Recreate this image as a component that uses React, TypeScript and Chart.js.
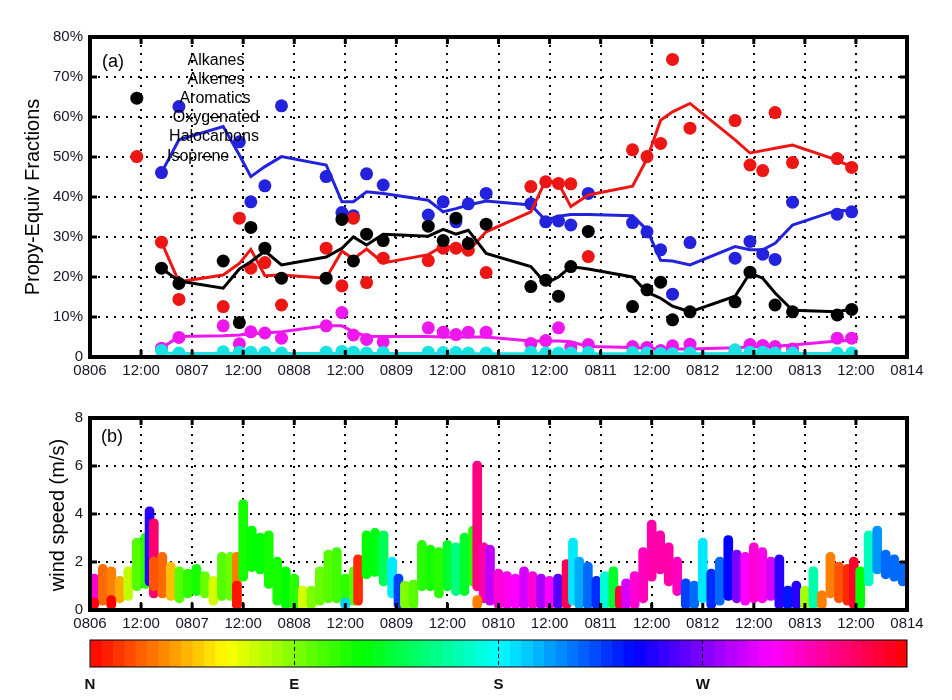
import React, { useEffect, useRef } from 'react';
import { Chart, registerables } from 'chart.js';

Chart.register(...registerables);

const FONT = '"Liberation Sans", Arial, Helvetica, sans-serif';
const TEXT = '#15152a';

// ---------- tick labels ----------
const timeTickLabels = ['0806', '12:00', '0807', '12:00', '0808', '12:00', '0809', '12:00', '0810',
  '12:00', '0811', '12:00', '0812', '12:00', '0813', '12:00', '0814'];
const fractionTickLabels = ['0', '10%', '20%', '30%', '40%', '50%', '60%', '70%', '80%'];
const speedTickLabels = ['0', '2', '4', '6', '8'];
const directionTickLabels = ['N', 'E', 'S', 'W', ''];
const legendNames = ['Alkanes', 'Alkenes', 'Aromatics', 'Oxygenated', 'Halocarbons', 'Isoprene'];

// ---------- panel (a): propylene-equivalent fractions (%), time in hours since 0806 00:00 ----------
const sampleTime = [11.0, 16.8, 20.9, 31.3, 35.1, 37.8, 41.1, 45.0, 55.5, 59.2, 61.9, 65.0, 68.9, 79.5, 83.0, 86.0, 88.9, 93.1,
  103.6, 107.1, 110.1, 113.0, 117.1, 127.5, 130.9, 134.1, 136.9, 141.0, 151.6, 155.1, 158.1, 161.0, 165.1, 175.6, 179.0];

const alkanesPts = [64.7, 22.2, 18.4, 24.0, 8.6, 32.4, 27.2, 19.7, 19.7, 34.4, 24.0, 30.7, 29.1, 32.7, 29.1, 34.7, 28.4, 33.2,
  17.6, 19.2, 15.2, 22.6, 31.4, 12.6, 16.8, 18.7, 9.3, 11.3, 13.8, 21.2, null, 13.0, 11.3, 10.5, 11.9];
const alkanesFit = [null, 22.2, 19.0, 17.2, 22.0, 23.8, 26.5, 23.0, 25.0, 27.2, 30.0, 28.0, 30.7, 30.2, 31.9, 30.7, 31.7, 25.9,
  22.6, 18.4, 20.0, 22.6, 22.0, 20.0, 16.2, 14.7, 12.7, 11.3, 15.2, 21.0, 19.7, 16.0, 11.7, 11.3, 12.0];

const oxygenatedPts = [50.1, 28.7, 14.4, 12.6, 34.7, 22.2, 23.6, 13.0, 27.2, 17.8, 34.7, 18.6, 24.7, 24.1, 27.2, 27.2, 26.7, 21.1,
  42.6, 43.8, 43.4, 43.3, 25.1, 51.8, 50.1, 53.4, 74.4, 57.2, 59.1, 48.0, 46.6, 61.1, 48.6, 49.6, 47.4];
const oxygenatedFit = [null, 28.7, 18.8, 20.5, 23.4, 26.9, 20.3, 20.5, 19.7, 26.5, 24.5, 27.0, 23.5, 25.6, 27.8, 27.2, 26.5, 31.3,
  36.3, 44.2, 43.4, 37.6, 40.5, 42.7, 49.5, 59.2, 61.3, 63.4, 54.3, 51.0, 51.6, 52.2, 53.0, 49.2, 47.5];

const alkenesPts = [null, 46.1, 62.6, null, 53.8, 38.8, 42.8, 62.8, 45.1, 36.1, 35.3, 45.8, 43.0, 35.5, 38.8, 33.8, 38.3, 40.9,
  38.3, 33.8, 34.0, 33.0, 40.9, 33.6, 31.3, 26.8, 15.7, 28.6, 24.7, 28.9, 25.7, 24.4, 38.7, 35.7, 36.3];
const alkenesFit = [null, 46.1, 54.3, 57.6, 50.5, 45.1, 47.6, 50.1, 48.0, 38.8, 38.8, 41.3, 40.9, 39.2, 36.3, 37.1, 38.0, 39.0,
  38.0, 34.2, 35.2, 35.6, 35.6, 35.3, 31.8, 24.2, 24.0, 23.0, 27.6, 26.8, 26.8, 28.4, 33.0, 36.7, 36.5];

const aromaticsPts = [null, 2.2, 4.9, 7.8, 3.3, 6.3, 6.0, 4.7, 7.8, 11.1, 5.5, 4.4, 3.8, 7.3, 6.2, 5.6, 6.2, 6.2,
  3.4, 4.1, 7.3, 2.4, 3.1, 2.6, 2.4, 1.6, 2.8, 3.2, 1.5, 3.1, 2.9, 2.6, 2.0, 4.7, 4.7];
const aromaticsFit = [null, 2.2, 5.1, 5.3, 5.5, 5.8, 6.0, 6.3, 7.8, 7.8, 6.3, 5.2, 5.1, 5.1, 5.0, 5.0, 5.0, 5.0,
  4.0, 4.0, 4.0, 3.8, 2.6, 2.4, 2.2, 2.0, 2.0, 2.0, 2.3, 2.5, 2.6, 2.7, 3.0, 4.0, 4.2];

const halocarbonsPts = [null, 1.6, 1.0, 1.3, 1.2, 1.2, 1.1, 1.0, 1.2, 1.4, 1.2, 1.0, 1.1, 1.2, 1.1, 1.1, 1.0, 1.0,
  1.2, 1.0, 1.0, 1.0, 1.1, 1.1, 1.0, 0.9, 0.8, 1.0, 1.8, 1.2, 1.2, 1.0, 1.0, 1.0, 1.0];
const halocarbonsFit = [null, 1.0, 0.9, 0.9, 0.9, 0.9, 0.9, 0.9, 0.9, 0.9, 0.9, 0.9, 0.9, 0.9, 0.8, 0.8, 0.8, 0.8,
  0.8, 0.8, 0.8, 0.8, 0.8, 0.8, 0.8, 0.8, 0.8, 0.8, 0.9, 0.9, 0.9, 0.9, 0.9, 0.9, 0.9];

// ---------- panel (b): wind speed range (m/s) and direction (deg) ----------
const windTime = [
  1, 3, 5, 7, 9, 11, 13, 14, 15, 17,
  19, 21, 23, 25, 27, 29, 31, 33, 34.5, 36,
  38, 40, 42, 44, 46, 48, 50, 52, 54, 56,
  58, 60, 62, 63, 65, 67, 69, 71, 72.5, 74,
  76, 78, 80, 82, 84, 86, 88, 90, 91, 92.5,
  94, 96, 98, 100, 102, 104, 106, 108, 110, 112,
  113.5, 115, 117, 119, 121, 123, 124.5, 126, 128, 130,
  132, 134, 136, 138, 140, 142, 144, 146, 148, 150,
  152, 154, 156, 158, 160, 162, 164, 166, 168, 170,
  172, 174, 176, 178, 179.5, 181, 183, 185, 187, 189,
  191, 1, 5, 34.5, 60, 91, 15];
const windLow = [
  0.4, 0.2, 0.0, 0.3, 0.4, 0.8, 0.9, 1.0, 0.5, 0.5,
  0.4, 0.3, 0.5, 0.6, 0.5, 0.2, 0.4, 0.4, 0.0, 1.2,
  1.6, 1.5, 0.9, 0.2, 0.0, 0.0, 0.0, 0.0, 0.2, 0.3,
  0.3, 0.0, 0.2, 0.2, 1.3, 1.4, 1.0, 0.5, 0.0, 0.0,
  0.0, 0.8, 0.8, 0.5, 0.8, 0.6, 0.6, 1.0, 0.8, 0.3,
  0.2, 0.0, 0.0, 0.0, 0.0, 0.0, 0.0, 0.0, 0.0, 0.0,
  0.2, 0.0, 0.0, 0.0, 0.0, 0.0, 0.0, 0.0, 0.0, 0.3,
  1.2, 1.5, 1.0, 0.6, 0.0, 0.0, 0.3, 0.0, 0.2, 0.4,
  0.3, 0.2, 0.3, 0.3, 0.4, 0.0, 0.0, 0.0, 0.0, 0.0,
  0.0, 0.5, 0.3, 0.2, 0.0, 0.0, 1.0, 1.5, 1.3, 1.2,
  1.0, 0.0, 0.0, 0.0, 0.0, 0.0, 0.8];
const windHigh = [
  1.5, 1.9, 1.8, 1.4, 1.8, 3.0, 3.2, 4.3, 3.8, 2.4,
  2.0, 1.8, 1.7, 1.9, 1.6, 1.4, 2.4, 2.4, 2.4, 4.6,
  3.5, 3.2, 3.3, 2.2, 1.8, 1.5, 1.0, 1.0, 1.8, 2.5,
  2.6, 1.5, 1.8, 2.3, 3.3, 3.4, 3.3, 2.2, 1.5, 1.2,
  1.25, 2.9, 2.7, 2.6, 2.9, 2.8, 3.2, 3.5, 6.2, 2.8,
  2.7, 1.7, 1.6, 1.5, 1.8, 1.6, 1.5, 1.4, 1.5, 2.1,
  3.0, 2.2, 2.0, 1.4, 1.6, 1.8, 1.0, 1.3, 1.6, 2.6,
  3.75, 3.3, 2.8, 2.2, 1.3, 1.2, 3.0, 1.7, 2.2, 3.1,
  2.5, 2.4, 2.8, 2.6, 2.2, 2.3, 1.0, 1.2, 1.0, 1.8,
  0.8, 2.4, 2.0, 1.9, 2.2, 1.8, 3.3, 3.5, 2.5, 2.3,
  2.0, 0.5, 0.6, 1.2, 0.5, 0.6, 2.2];
const windDir = [
  310, 25, 30, 40, 75, 100, 110, 250, 335, 25,
  45, 100, 110, 115, 95, 70, 100, 95, 30, 115,
  120, 120, 115, 115, 120, 110, 70, 90, 95, 100,
  105, 110, 100, 10, 120, 125, 140, 185, 225, 90,
  100, 110, 115, 110, 130, 150, 130, 110, 330, 320,
  285, 310, 305, 300, 290, 310, 280, 300, 260, 340,
  185, 200, 215, 230, 170, 130, 345, 290, 310, 315,
  320, 320, 320, 315, 225, 215, 185, 230, 215, 240,
  270, 300, 310, 305, 290, 250, 235, 250, 80, 160,
  30, 30, 20, 10, 350, 120, 165, 205, 215, 215,
  215, 355, 0, 5, 190, 30, 20];

// colour bar bands (degrees)
const colorbarStep = 5;
const colorbarBands = Array.from({ length: 360 / colorbarStep }, (_, i) => i * colorbarStep);

// ---------- helpers ----------
function dirColor(d: number) {
  const h = ((d % 360) + 360) % 360;
  return `hsl(${h}, 100%, 50%)`;
}

function framePlugin(lineWidth: number, tickLen: number) {
  return {
    id: 'frame',
    afterDraw(chart: any) {
      const { ctx, chartArea: a } = chart;
      ctx.save();
      ctx.strokeStyle = '#000';
      if (tickLen > 0) {
        const xs = chart.scales.x;
        const ys = chart.scales.y;
        ctx.lineWidth = 3;
        ctx.beginPath();
        for (const t of xs.ticks) {
          const p = xs.getPixelForValue(t.value);
          ctx.moveTo(p, a.bottom); ctx.lineTo(p, a.bottom - tickLen);
          ctx.moveTo(p, a.top); ctx.lineTo(p, a.top + tickLen);
        }
        for (const t of ys.ticks) {
          const p = ys.getPixelForValue(t.value);
          ctx.moveTo(a.left, p); ctx.lineTo(a.left + tickLen, p);
          ctx.moveTo(a.right, p); ctx.lineTo(a.right - tickLen, p);
        }
        ctx.stroke();
      }
      ctx.lineWidth = lineWidth;
      ctx.strokeRect(a.left, a.top, a.right - a.left, a.bottom - a.top);
      ctx.restore();
    },
  };
}

type TextItem = { text: string; x: number; y: number; size: number; rotate?: boolean; align?: CanvasTextAlign; weight?: string };
function textPlugin(items: TextItem[]) {
  return {
    id: 'texts',
    afterDraw(chart: any) {
      const { ctx } = chart;
      ctx.save();
      ctx.fillStyle = '#000';
      ctx.textBaseline = 'middle';
      for (const it of items) {
        ctx.save();
        ctx.font = `${it.weight || 'normal'} ${it.size}px ${FONT}`;
        ctx.textAlign = it.align || 'center';
        ctx.translate(it.x, it.y);
        if (it.rotate) ctx.rotate(-Math.PI / 2);
        ctx.fillText(it.text, 0, 0);
        ctx.restore();
      }
      ctx.restore();
    },
  };
}

const PAD_RIGHT = 952 - 907;
const Y_AXIS_W = 90;

function timeAxis(height: number) {
  return {
    type: 'linear',
    min: 0,
    max: 192,
    offset: false,
    ticks: {
      stepSize: 12,
      autoSkip: false,
      maxRotation: 0,
      padding: 5,
      color: TEXT,
      font: { family: FONT, size: 15 },
      callback: (v: number) => timeTickLabels[Math.round(v / 12)] ?? '',
    },
    grid: { color: '#000', lineWidth: 2, drawTicks: false, offset: false },
    border: { display: false, dash: [2, 6] },
    afterFit: (s: any) => { s.height = height; },
  };
}

function valueAxis(max: number, step: number, labels: string[]) {
  return {
    min: 0,
    max,
    ticks: {
      stepSize: step,
      padding: 7,
      color: TEXT,
      font: { family: FONT, size: 15 },
      callback: (v: number) => labels[Math.round(v / step)] ?? '',
    },
    grid: { color: '#000', lineWidth: 2, drawTicks: false },
    border: { display: false, dash: [2, 6] },
    afterFit: (s: any) => { s.width = Y_AXIS_W; },
  };
}

function pairs(ys: (number | null)[]) {
  return sampleTime.map((t, i) => ({ x: t, y: ys[i] }));
}

function seriesSets(pts: (number | null)[], fit: (number | null)[], color: string, order: number, label: string) {
  return [
    {
      label: label + ' samples',
      data: pairs(pts),
      showLine: false,
      pointRadius: 6.5,
      pointBackgroundColor: color,
      pointBorderWidth: 0,
      order: order + 1,
    },
    {
      label: label + ' trend',
      data: pairs(fit),
      showLine: true,
      spanGaps: true,
      borderColor: color,
      borderWidth: 3,
      pointRadius: 0,
      tension: 0,
      order,
    },
  ];
}

function topConfig(): any {
  return {
    type: 'scatter',
    data: {
      datasets: [
        ...seriesSets(alkenesPts, alkenesFit, '#2323dd', 11, 'Alkenes'),
        ...seriesSets(oxygenatedPts, oxygenatedFit, '#ee1515', 9, 'Oxygenated'),
        ...seriesSets(alkanesPts, alkanesFit, '#000000', 7, 'Alkanes'),
        ...seriesSets(aromaticsPts, aromaticsFit, '#ee18ee', 5, 'Aromatics'),
        ...seriesSets(halocarbonsPts, halocarbonsFit, '#18e3e3', 3, 'Halocarbons'),
      ],
    },
    options: {
      responsive: false,
      animation: false,
      events: [],
      layout: { padding: { left: 0, right: PAD_RIGHT, top: 37, bottom: 0 } },
      plugins: { legend: { display: false }, tooltip: { enabled: false } },
      scales: {
        x: timeAxis(385 - 357),
        y: valueAxis(80, 10, fractionTickLabels),
      },
    },
    plugins: [
      framePlugin(4, 7),
      textPlugin([
        { text: '(a)', x: 113, y: 62, size: 18 },
        { text: legendNames[0], x: 216, y: 61, size: 16 },
        { text: legendNames[1], x: 216, y: 80, size: 16 },
        { text: legendNames[2], x: 215, y: 99, size: 16 },
        { text: legendNames[3], x: 216, y: 118, size: 16 },
        { text: legendNames[4], x: 214, y: 137, size: 16 },
        { text: legendNames[5], x: 167, y: 157, size: 16, align: 'left' },
        { text: 'Propy-Equiv Fractions', x: 33, y: 197, size: 20, rotate: true },
      ]),
    ],
  };
}

function windConfig(): any {
  return {
    type: 'bar',
    data: {
      datasets: [
        {
          label: 'wind speed',
          data: windTime.map((t, i) => ({ x: t, y: [windLow[i], windHigh[i]] })),
          backgroundColor: windDir.map(dirColor),
          borderWidth: 0,
          barThickness: 9,
          borderRadius: 4.5,
          borderSkipped: false,
        },
      ],
    },
    options: {
      responsive: false,
      animation: false,
      events: [],
      layout: { padding: { left: 0, right: PAD_RIGHT, top: 33, bottom: 0 } },
      plugins: { legend: { display: false }, tooltip: { enabled: false } },
      scales: {
        x: timeAxis(250 - 225),
        y: valueAxis(8, 2, speedTickLabels),
      },
    },
    plugins: [
      framePlugin(4, 7),
      textPlugin([
        { text: '(b)', x: 112, y: 52, size: 18 },
        { text: 'wind speed (m/s)', x: 58, y: 130, size: 20, rotate: true },
      ]),
    ],
  };
}

function colorbarConfig(): any {
  return {
    type: 'bar',
    data: {
      labels: ['direction'],
      datasets: colorbarBands.map((d) => ({
        label: String(d),
        data: [colorbarStep],
        backgroundColor: dirColor(d + colorbarStep / 2),
        borderWidth: 0,
        barPercentage: 1,
        categoryPercentage: 1,
      })),
    },
    options: {
      indexAxis: 'y',
      responsive: false,
      animation: false,
      events: [],
      layout: { padding: { left: Y_AXIS_W, right: PAD_RIGHT, top: 5, bottom: 0 } },
      plugins: { legend: { display: false }, tooltip: { enabled: false } },
      scales: {
        x: {
          type: 'linear',
          stacked: true,
          min: 0,
          max: 360,
          ticks: {
            stepSize: 90,
            autoSkip: false,
            maxRotation: 0,
            padding: 9,
            color: '#111',
            font: { family: FONT, size: 15, weight: 'bold' },
            callback: (v: number) => directionTickLabels[Math.round(v / 90)] ?? '',
          },
          grid: {
            z: 1,
            drawTicks: false,
            lineWidth: 1,
            color: (c: any) => (c.tick && [90, 180, 270].includes(c.tick.value) ? '#000' : 'rgba(0,0,0,0)'),
          },
          border: { display: false, dash: [4, 3] },
          afterFit: (s: any) => { s.height = 65 - 32; },
        },
        y: { stacked: true, display: false },
      },
    },
    plugins: [framePlugin(1, 0)],
  };
}

function ChartCanvas({ top, height, makeConfig }: { top: number; height: number; makeConfig: () => any }) {
  const ref = useRef<HTMLCanvasElement | null>(null);
  useEffect(() => {
    if (!ref.current) return;
    const chart = new Chart(ref.current, makeConfig());
    return () => chart.destroy();
  }, [makeConfig]);
  return (
    <canvas
      ref={ref}
      width={952}
      height={height}
      style={{ position: 'absolute', left: 0, top, width: 952, height, display: 'block' }}
    />
  );
}

export default function App() {
  return (
    <div style={{ position: 'absolute', left: 0, top: 0, width: 952, height: 700, background: '#fff', overflow: 'hidden' }}>
      <ChartCanvas top={0} height={385} makeConfig={topConfig} />
      <ChartCanvas top={385} height={250} makeConfig={windConfig} />
      <ChartCanvas top={635} height={65} makeConfig={colorbarConfig} />
    </div>
  );
}
